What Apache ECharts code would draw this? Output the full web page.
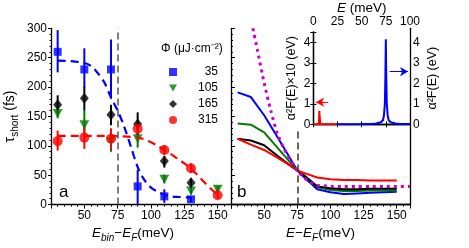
<!DOCTYPE html>
<html>
<head>
<meta charset="utf-8">
<script src="https://cdn.jsdelivr.net/npm/echarts@6/dist/echarts.min.js"></script>
<style>
html,body{margin:0;padding:0;background:#fff;}
#c{width:469px;height:248px;}
</style>
</head>
<body>
<div id="c"></div>
<script>
// ---------- Panel a: measured tau_short ----------
const aE35 = [30, 50, 70, 90, 110, 130];
const tau35 = [260, 230, 230, 31, 14, 9];
const lo35 = [225, 199, 180, 0, 3, 4];
const hi35 = [297, 266, 281, 59, 26, 14];

const aE105 = [30, 50, 70, 90, 110, 130, 150];
const tau105 = [155, 136, 108, 112, 43, 23, 26];
const lo105 = [147, 120, 90, 97, 36, 17, 20];
const hi105 = [165, 160, 128, 122, 51, 30, 32];

const aE165 = [30, 50, 70, 90, 110, 130];
const tau165 = [170, 181, 153, 137, 74, 37];
const lo165 = [155, 160, 135, 118, 63, 29];
const hi165 = [186, 201, 170, 157, 83, 45];

const aE315 = [30, 50, 70, 90, 110, 130, 150];
const tau315 = [108, 114, 112, 129, 93, 62, 16];
const lo315 = [92, 95, 94, 121, 85, 54, 10];
const hi315 = [126, 132, 130, 137, 101, 70, 22];

// fits (dashed)
const fitE35 = [30, 40, 50, 55, 60, 65, 70, 75, 80, 85, 90, 95, 100, 105, 110, 115, 120, 130];
const fit35 = [245, 244, 241, 236, 224, 208, 182, 160, 132, 98, 64, 42, 29, 22, 17, 14, 13, 12];
const fitE315 = [30, 40, 50, 60, 70, 80, 90, 95, 100, 105, 110, 115, 120, 125, 130, 135, 140, 145, 150];
const fit315 = [117, 117, 117, 117, 117, 116, 114, 111, 106, 100, 93, 86, 78, 70, 61, 50, 38, 27, 16];

const legendNames = ['35', '105', '165', '315'];

// ---------- Panel b: calculated ----------
const bE = [30, 40, 50, 60, 70, 75, 80, 90, 100, 110, 120, 130, 140, 150];
const bBlue = [191, 183, 152, 115, 77, 58, 47, 26, 21, 18, 19, 20, 21, 22];
const bGreen = [138, 136, 123, 97, 71, 58, 50, 30, 25, 23, 23, 24, 24, 24];
const bBlack = [112, 109, 101, 83, 66, 58, 50, 31, 28, 26, 26, 27, 27, 27];
const bRed = [112, 102, 93, 80, 66, 58, 54, 46, 43, 42, 42, 41, 41, 41];
const mE = [41.5, 45, 50, 55, 60, 65, 70, 75, 80, 85, 90, 95, 100, 110, 120, 130, 140, 150, 160];
const mVal = [300, 262, 207, 160, 120, 95, 75, 58, 46, 38, 33, 32, 31, 31, 31, 31, 31, 31, 31];

// ---------- Inset: Eliashberg function ----------
const insRedE = [0, 5.8, 6.2, 6.8, 7.2, 24];
const insRedV = [0, 0, 0.66, 0.66, 0, 0];
const insBlueE = [24, 50, 60, 65, 70, 72, 73, 74, 74.5, 75, 75.5, 76, 77, 78, 80, 85, 90, 100];
const insBlueV = [0, 0.01, 0.02, 0.04, 0.1, 0.2, 0.4, 1.0, 2.2, 4.15, 2.2, 1.0, 0.4, 0.2, 0.1, 0.04, 0.02, 0.01];
const redArrow = [[15.5, 1.08], [2.8, 1.08]];
const blueArrow = [[79, 2.57], [98, 2.57]];

const xTicks = [25, 50, 75, 100, 125, 150];
const yTicks = [0, 50, 100, 150, 200, 250, 300];
const insXTicks = [0, 25, 50, 75, 100];
const insYTicks = [0, 1, 2, 3, 4];
const markerE = 75;

const FONT = 'Liberation Sans, Arial, sans-serif';
const BLUE = '#0000ff', GREEN = '#007a00', BLACK = '#000000', RED = '#ff0000', MAG = '#c800c8';

function zip(a, b) { return a.map((v, i) => [v, b[i]]); }
function zip3(a, b, c) { return a.map((v, i) => [v, b[i], c[i]]); }

function errSeries(xs, lo, hi, color) {
  return {
    type: 'custom', xAxisIndex: 0, yAxisIndex: 0, silent: true, z: 3,
    data: zip3(xs, lo, hi),
    encode: { x: 0, y: [1, 2] },
    renderItem: function (params, api) {
      const p1 = api.coord([api.value(0), api.value(1)]);
      const p2 = api.coord([api.value(0), api.value(2)]);
      return { type: 'line', shape: { x1: p1[0], y1: p1[1], x2: p2[0], y2: p2[1] },
        style: { stroke: color, lineWidth: 2 } };
    }
  };
}

const axisLine = { show: true, lineStyle: { color: '#000', width: 1.3 } };
const lbl = { color: '#000', fontSize: 12, fontFamily: FONT };
const richName = {
  i: { fontStyle: 'italic', fontSize: 13.5, fontFamily: FONT, color: '#000' },
  n: { fontSize: 13.5, fontFamily: FONT, color: '#000' },
  s: { fontStyle: 'italic', fontSize: 10, fontFamily: FONT, color: '#000', verticalAlign: 'bottom', padding: [9, 0, 0, 0] },
  t: { fontSize: 14, fontFamily: FONT, color: '#000' },
  ts: { fontSize: 10, fontFamily: FONT, color: '#000', verticalAlign: 'bottom', padding: [9, 0, 0, 0] }
};

const chart = echarts.init(document.getElementById('c'), null, { renderer: 'canvas' });

const option = {
  backgroundColor: '#fff',
  animation: false,
  textStyle: { fontFamily: FONT },
  grid: [
    { left: 51, top: 28.3, width: 180, height: 178.7 },
    { left: 231, top: 28.3, width: 179, height: 178.7 },
    { left: 313.3, top: 28.3, width: 96.7, height: 96 }
  ],
  title: [
    { text: 'Φ (μJ·cm⁻²)', left: 156, top: 38, textStyle: { fontSize: 12, fontWeight: 'normal', fontFamily: FONT, color: '#000' } }
  ],
  graphic: [
    { type: 'text', left: 59, top: 184, style: { text: 'a', fontSize: 17, fontFamily: FONT, fill: '#000' } },
    { type: 'text', left: 237, top: 184, style: { text: 'b', fontSize: 17, fontFamily: FONT, fill: '#000' } }
  ],
  legend: {
    orient: 'vertical', left: 164, top: 61, itemWidth: 8, itemHeight: 8, itemGap: 4,
    data: [
      { name: '35', icon: 'rect' },
      { name: '105', icon: 'path://M0,0 L10,0 L5,9 Z' },
      { name: '165', icon: 'diamond' },
      { name: '315', icon: 'circle' }
    ],
    formatter: n => '{a|' + n + '}',
    textStyle: { fontSize: 12, fontFamily: FONT, color: '#000', rich: { a: { width: 36, align: 'right', fontSize: 12, fontFamily: FONT, lineHeight: 14 } } }
  },
  xAxis: [
    { gridIndex: 0, type: 'value', min: 25, max: 160, interval: 25,
      axisLine: axisLine, axisTick: { show: true, length: 4, lineStyle: { color: '#000' } },
      minorTick: { show: true, splitNumber: 5, length: 2, lineStyle: { color: '#000' } },
      splitLine: { show: false },
      axisLabel: Object.assign({}, lbl, { margin: 5, formatter: v => (v === 25 ? '' : String(v)) }),
      name: '{i|E}{s|bin}{n|−}{i|E}{s|F}{n|(meV)}', nameLocation: 'middle', nameGap: 18,
      nameTextStyle: { rich: richName, padding: [0, 16, 0, 0] } },
    { gridIndex: 1, type: 'value', min: 25, max: 160, interval: 25,
      axisLine: axisLine, axisTick: { show: true, length: 4, lineStyle: { color: '#000' } },
      minorTick: { show: true, splitNumber: 5, length: 2, lineStyle: { color: '#000' } },
      splitLine: { show: false },
      axisLabel: Object.assign({}, lbl, { margin: 5, formatter: v => (v === 25 ? '' : String(v)) }),
      name: '{i|E}{n|−}{i|E}{s|F}{n|(meV)}', nameLocation: 'middle', nameGap: 18,
      nameTextStyle: { rich: richName } },
    { gridIndex: 1, type: 'value', min: 25, max: 160, position: 'top',
      axisLine: axisLine, axisTick: { show: false }, axisLabel: { show: false }, splitLine: { show: false } },
    { gridIndex: 2, type: 'value', min: 0, max: 100, interval: 25, position: 'top',
      axisLine: axisLine, axisTick: { show: true, inside: true, length: 3, lineStyle: { color: '#000' } },
      axisLabel: Object.assign({}, lbl, { margin: 4 }), splitLine: { show: false },
      name: '{i|E}{n| (meV)}', nameLocation: 'middle', nameGap: 17,
      nameTextStyle: { rich: richName } },
    { gridIndex: 2, type: 'value', min: 0, max: 100, interval: 25, position: 'bottom',
      axisLine: axisLine, axisTick: { show: true, inside: true, length: 3, lineStyle: { color: '#000' } },
      axisLabel: { show: false }, splitLine: { show: false } }
  ],
  yAxis: [
    { gridIndex: 0, type: 'value', min: 0, max: 300, interval: 50,
      axisLine: axisLine, axisTick: { show: true, length: 3, lineStyle: { color: '#000' } },
      minorTick: { show: true, splitNumber: 5, length: 1.5, lineStyle: { color: '#000' } },
      splitLine: { show: false }, axisLabel: Object.assign({}, lbl, { margin: 4 }),
      name: '{t|τ}{ts|short}{t| (fs)}', nameLocation: 'middle', nameGap: 31,
      nameTextStyle: { rich: richName } },
    { gridIndex: 1, type: 'value', min: 0, max: 300, interval: 50,
      axisLine: axisLine, axisTick: { show: true, inside: true, length: 4, lineStyle: { color: '#000' } },
      minorTick: { show: true, splitNumber: 5, length: 2, lineStyle: { color: '#000' } },
      splitLine: { show: false }, axisLabel: { show: false } },
    { gridIndex: 1, type: 'value', min: 0, max: 300, position: 'right',
      axisLine: axisLine, axisTick: { show: false }, splitLine: { show: false }, axisLabel: { show: false } },
    { gridIndex: 2, type: 'value', min: 0, max: 4.5, interval: 1,
      axisLine: axisLine, axisTick: { show: true, length: 3, lineStyle: { color: '#000' } },
      splitLine: { show: false },
      axisLabel: Object.assign({}, lbl, { margin: 3, formatter: v => (Number.isInteger(v) ? String(v) : '') }),
      name: 'α²F(E)×10 (eV)', nameLocation: 'middle', nameGap: 15,
      nameTextStyle: { fontSize: 12.5, fontFamily: FONT, color: '#000' } },
    { gridIndex: 2, type: 'value', min: 0, max: 4.5, interval: 1, position: 'right',
      axisLine: axisLine, axisTick: { show: true, length: 3, lineStyle: { color: '#000' } },
      splitLine: { show: false },
      axisLabel: Object.assign({}, lbl, { margin: 3, formatter: v => (Number.isInteger(v) ? String(v) : '') }),
      name: 'α²F(E) (eV)', nameLocation: 'middle', nameGap: 16,
      nameTextStyle: { fontSize: 12.5, fontFamily: FONT, color: '#000' } }
  ],
  series: [
    // vertical dashed marker lines
    { type: 'line', xAxisIndex: 0, yAxisIndex: 0, data: [], silent: true,
      markLine: { silent: true, symbol: 'none', label: { show: false },
        lineStyle: { color: '#555', type: [7, 4], width: 1.5 },
        data: [[{ coord: [markerE, 0] }, { coord: [markerE, 300] }]] } },
    { type: 'line', xAxisIndex: 1, yAxisIndex: 1, data: [], silent: true,
      markLine: { silent: true, symbol: 'none', label: { show: false },
        lineStyle: { color: '#333', type: [7, 4], width: 1.5 },
        data: [[{ coord: [markerE, 0] }, { coord: [markerE, 128] }]] } },

    // error bars
    errSeries(aE35, lo35, hi35, BLUE),
    errSeries(aE105, lo105, hi105, GREEN),
    errSeries(aE165, lo165, hi165, BLACK),
    errSeries(aE315, lo315, hi315, RED),

    // points
    { name: '35', type: 'scatter', xAxisIndex: 0, yAxisIndex: 0, data: zip(aE35, tau35),
      symbol: 'rect', symbolSize: 8, itemStyle: { color: BLUE }, z: 4 },
    { name: '105', type: 'scatter', xAxisIndex: 0, yAxisIndex: 0, data: zip(aE105, tau105),
      symbol: 'path://M0,0 L10,0 L5,9 Z', symbolSize: [10, 9], itemStyle: { color: GREEN }, z: 4 },
    { name: '165', type: 'scatter', xAxisIndex: 0, yAxisIndex: 0, data: zip(aE165, tau165),
      symbol: 'diamond', symbolSize: [9, 11], itemStyle: { color: BLACK }, z: 4 },
    { name: '315', type: 'scatter', xAxisIndex: 0, yAxisIndex: 0, data: zip(aE315, tau315),
      symbol: 'circle', symbolSize: 10, itemStyle: { color: RED }, z: 4 },

    // fits
    { type: 'line', xAxisIndex: 0, yAxisIndex: 0, data: zip(fitE35, fit35), smooth: 0.3, showSymbol: false,
      lineStyle: { color: BLUE, width: 2.2, type: [8, 5] }, z: 5, silent: true },
    { type: 'line', xAxisIndex: 0, yAxisIndex: 0, data: zip(fitE315, fit315), smooth: 0.3, showSymbol: false,
      lineStyle: { color: RED, width: 2.2, type: [8, 5] }, z: 5, silent: true },

    // panel b curves
    { type: 'line', xAxisIndex: 1, yAxisIndex: 1, data: zip(bE, bBlue), showSymbol: false,
      lineStyle: { color: BLUE, width: 2 }, silent: true },
    { type: 'line', xAxisIndex: 1, yAxisIndex: 1, data: zip(bE, bGreen), showSymbol: false,
      lineStyle: { color: GREEN, width: 2 }, silent: true },
    { type: 'line', xAxisIndex: 1, yAxisIndex: 1, data: zip(bE, bBlack), showSymbol: false,
      lineStyle: { color: BLACK, width: 2 }, silent: true },
    { type: 'line', xAxisIndex: 1, yAxisIndex: 1, data: zip(bE, bRed), showSymbol: false,
      lineStyle: { color: RED, width: 2 }, silent: true },
    { type: 'line', xAxisIndex: 1, yAxisIndex: 1, data: zip(mE, mVal), showSymbol: false, smooth: 0.2,
      lineStyle: { color: MAG, width: 3, type: [3, 4] }, silent: true },

    // inset
    { type: 'line', xAxisIndex: 3, yAxisIndex: 3, data: zip(insRedE, insRedV), showSymbol: false,
      lineStyle: { color: RED, width: 2 }, silent: true,
      markLine: { silent: true, symbol: ['none', 'arrow'], symbolSize: [7, 8], label: { show: false },
        lineStyle: { color: RED, width: 1, type: 'solid' },
        data: [[{ coord: redArrow[0] }, { coord: redArrow[1] }]] } },
    { type: 'line', xAxisIndex: 3, yAxisIndex: 4, data: zip(insBlueE, insBlueV), showSymbol: false,
      lineStyle: { color: BLUE, width: 2 }, silent: true,
      markLine: { silent: true, symbol: ['none', 'arrow'], symbolSize: [7, 8], label: { show: false },
        lineStyle: { color: BLUE, width: 1, type: 'solid' },
        data: [[{ coord: blueArrow[0] }, { coord: blueArrow[1] }]] } }
  ]
};
chart.setOption(option);
</script>
</body>
</html>
